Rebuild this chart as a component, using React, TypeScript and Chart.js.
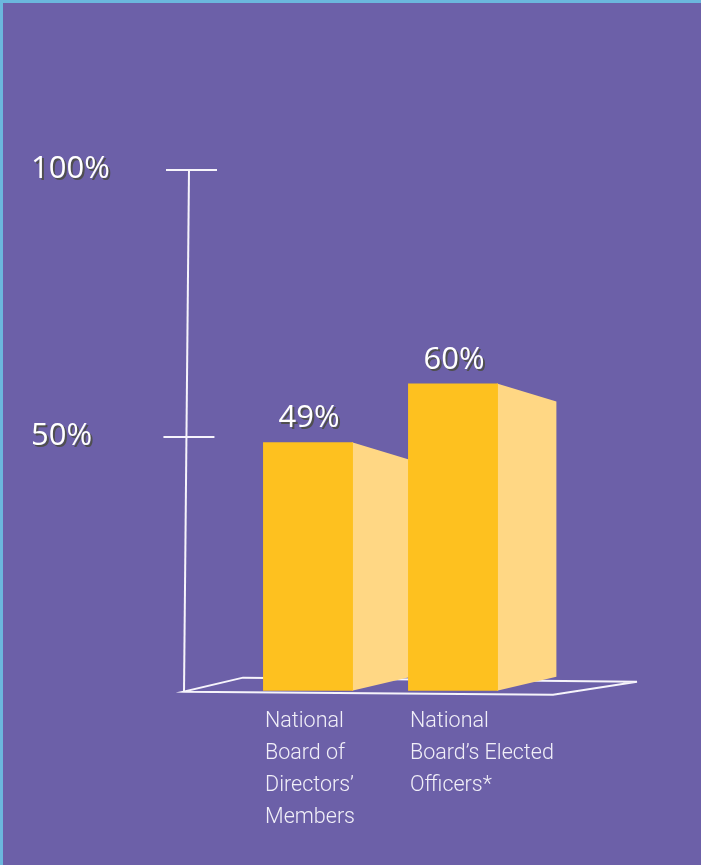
import React, { useEffect, useRef } from "react";
import { Chart, registerables } from "chart.js";

Chart.register(...registerables);

const categories: string[][] = [
  ["National", "Board of", "Directors’", "Members"],
  ["National", "Board’s Elected", "Officers*"],
];
const values: number[] = [49, 60];
const yTicks: number[] = [50, 100];
const BAR_BASE = 2.5;

const BG = "#6c60a8";
const BORDER = "#6bb7dd";
const FRONT = "#fec11f";
const SIDE = "#ffd784";
const LINE = "#f6f4fb";
const NUM_FONT = "31px 'Open Sans', sans-serif";
const CAT_FONT = "300 21.5px Roboto, sans-serif";

function shadowText(ctx: CanvasRenderingContext2D, t: string, x: number, y: number) {
  ctx.fillStyle = "#4f4f4f";
  ctx.fillText(t, x + 2, y + 2);
  ctx.fillStyle = "#ffffff";
  ctx.fillText(t, x, y);
}

const decor = {
  id: "decor",
  beforeDraw(chart: any) {
    const { ctx, width, height } = chart;
    ctx.save();
    ctx.fillStyle = BG;
    ctx.fillRect(0, 0, width, height);
    ctx.fillStyle = BORDER;
    ctx.fillRect(0, 0, width, 3);
    ctx.fillRect(0, 0, 3, height);
    ctx.restore();
  },
  beforeDatasetsDraw(chart: any) {
    const { ctx, chartArea, scales } = chart;
    const y = scales.y;
    const baseY = y.getPixelForValue(BAR_BASE);
    const topY = y.getPixelForValue(100);
    const axTop = chartArea.left - 46.5;
    const axBot = chartArea.left - 51.5;
    const axX = (py: number) => axTop + ((py - topY) / (baseY - topY)) * (axBot - axTop);
    ctx.save();
    ctx.strokeStyle = LINE;
    ctx.lineWidth = 2;
    ctx.beginPath();
    ctx.moveTo(axTop, topY);
    ctx.lineTo(axBot, baseY + 1);
    ctx.stroke();
    yTicks.forEach((v) => {
      const py = y.getPixelForValue(v);
      const ax = axX(py);
      ctx.beginPath();
      ctx.moveTo(ax - 23, py);
      ctx.lineTo(ax + 28, py);
      ctx.stroke();
    });
    ctx.beginPath();
    ctx.moveTo(axBot, baseY + 1);
    ctx.lineTo(chartArea.right + 27.5, baseY + 4);
    ctx.lineTo(chartArea.right + 111.5, baseY - 9);
    ctx.lineTo(axBot + 59, baseY - 13);
    ctx.closePath();
    ctx.stroke();
    const meta = chart.getDatasetMeta(0);
    meta.data.forEach((bar: any) => {
      const p = bar.getProps(["x", "y", "base", "width"], true);
      const r = p.x + p.width / 2;
      const d = p.width * 0.65;
      ctx.fillStyle = SIDE;
      ctx.beginPath();
      ctx.moveTo(r - 1, p.y);
      ctx.lineTo(r + d, p.y + 18);
      ctx.lineTo(r + d, p.base - 14);
      ctx.lineTo(r - 1, p.base);
      ctx.closePath();
      ctx.fill();
    });
    ctx.restore();
  },
  afterDatasetsDraw(chart: any) {
    const { ctx, scales } = chart;
    const y = scales.y;
    const meta = chart.getDatasetMeta(0);
    ctx.save();
    ctx.font = NUM_FONT;
    ctx.textAlign = "left";
    ctx.textBaseline = "middle";
    yTicks.forEach((v) => {
      shadowText(ctx, `${v}%`, 31, y.getPixelForValue(v) - 1);
    });
    ctx.textAlign = "center";
    ctx.textBaseline = "alphabetic";
    meta.data.forEach((bar: any, i: number) => {
      const p = bar.getProps(["x", "y"], true);
      shadowText(ctx, `${values[i]}%`, p.x + 1, p.y - 15);
    });
    ctx.font = CAT_FONT;
    ctx.textAlign = "left";
    ctx.textBaseline = "top";
    ctx.fillStyle = "#f1eff8";
    meta.data.forEach((bar: any, i: number) => {
      const p = bar.getProps(["x", "base", "width"], true);
      const lx = p.x - p.width / 2 + 2;
      categories[i].forEach((line, j) => {
        ctx.fillText(line, lx, p.base + 20 + j * 32);
      });
    });
    ctx.restore();
  },
};

export default function App() {
  const ref = useRef<HTMLCanvasElement | null>(null);
  useEffect(() => {
    if (!ref.current) return;
    const chart = new Chart(ref.current, {
      type: "bar",
      data: {
        labels: categories,
        datasets: [
          {
            data: values,
            backgroundColor: FRONT,
            borderWidth: 0,
            base: BAR_BASE,
            barPercentage: 1,
            categoryPercentage: 0.62,
          } as any,
        ],
      },
      options: {
        responsive: false,
        animation: false,
        events: [],
        layout: { padding: { left: 235.5, right: 175.5, top: 170, bottom: 161 } },
        scales: {
          x: { display: false },
          y: { display: false, min: 0, max: 100, ticks: { stepSize: 50 } },
        },
        plugins: { legend: { display: false }, tooltip: { enabled: false } },
      },
      plugins: [decor],
    });
    return () => chart.destroy();
  }, []);
  return (
    <div style={{ position: "fixed", left: 0, top: 0, width: 701, height: 865, background: BG }}>
      <canvas ref={ref} width={701} height={865} style={{ display: "block" }} />
    </div>
  );
}
